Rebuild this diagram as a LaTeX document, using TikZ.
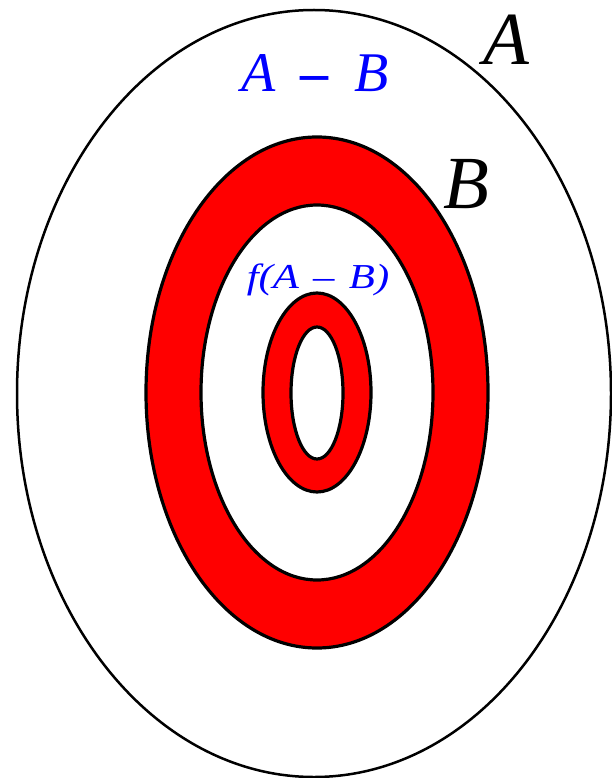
\documentclass[tikz,border=0pt]{standalone}
\usepackage{fontspec}
\setmainfont{Liberation Serif}
\begin{document}
\begin{tikzpicture}[x=1pt,y=-1pt,
  outerset/.style={draw=black, line width=2.5pt},
  ring/.style={fill=red, draw=black, line width=3.2pt, even odd rule},
  biglabel/.style={anchor=base, inner sep=0pt, font=\itshape\fontsize{75}{75}\selectfont},
  setlabel/.style={anchor=base, inner sep=0pt, text=blue, font=\itshape\fontsize{56}{56}\selectfont},
  smalllabel/.style={anchor=base, inner sep=0pt, text=blue, xscale=1.22, font=\itshape\fontsize{35}{35}\selectfont}]
\useasboundingbox (0,0) rectangle (612,778);
\fill[white] (0,0) rectangle (612,778);
% set A
\draw[outerset] (314,393.5) ellipse [x radius=297pt, y radius=383.5pt];
% set B (ring)
\draw[ring] (317,392.5) ellipse [x radius=171pt, y radius=255.5pt]
            (317,392.5) ellipse [x radius=116pt, y radius=187.5pt];
% f(B) (ring)
\draw[ring] (317,392.5) ellipse [x radius=54pt, y radius=99.5pt]
            (317,393) ellipse [x radius=26pt, y radius=66pt];
% labels
\node[biglabel] (labA) at (506,65) {A};
\node[biglabel] (labB) at (466,208) {B};
\node[setlabel] (labAB) at (315,92) {A\hspace{24pt}{\upshape\bfseries –}\hspace{26pt}B};
\node[smalllabel] (labf) at (318,288) {f(A\hspace{3pt} – \hspace{3pt}B)};
\end{tikzpicture}
\end{document}
